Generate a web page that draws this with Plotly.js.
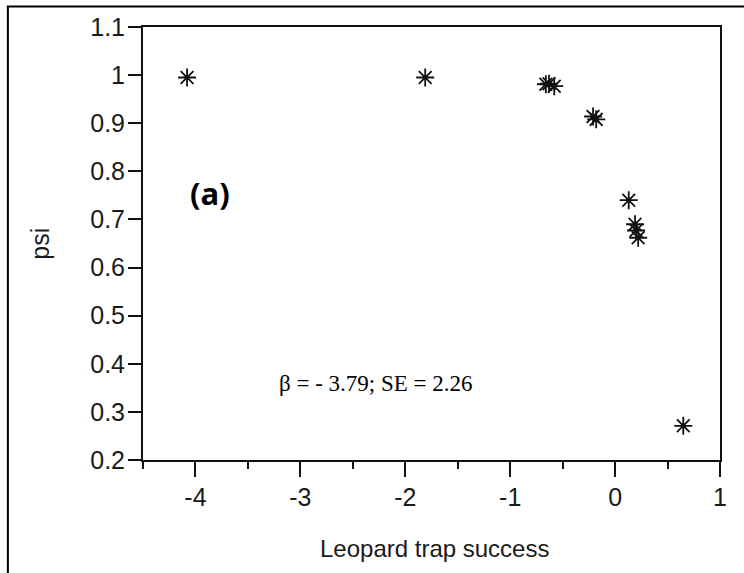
<!DOCTYPE html>
<html>
<head>
<meta charset="utf-8">
<script src="https://cdn.plot.ly/plotly-3.0.1.min.js"></script>
<style>
  html, body { margin: 0; padding: 0; background: #fff; }
  #chart { width: 744px; height: 573px; }
</style>
</head>
<body>
<div id="chart"></div>
<script>
// Leopard trap success (x) against estimated occupancy psi (y), one star per site
const trapSuccess = [-4.08, -1.81, -0.66, -0.63, -0.58, -0.21, -0.18, 0.13, 0.19, 0.20, 0.22, 0.65];
const psi         = [0.995, 0.995, 0.981, 0.982, 0.977, 0.914, 0.908, 0.740, 0.690, 0.677, 0.662, 0.271];

const xTickVals = [-4, -3, -2, -1, 0, 1];
const xTickText = ['-4', '-3', '-2', '-1', '0', '1'];
const yTickVals = [0.2, 0.3, 0.4, 0.5, 0.6, 0.7, 0.8, 0.9, 1.0, 1.1];
const yTickText = ['0.2', '0.3', '0.4', '0.5', '0.6', '0.7', '0.8', '0.9', '1', '1.1'];

const panelLabel = '(a)';
const statsText = '\u03B2 = - 3.79; SE = 2.26';
const xTitle = 'Leopard trap success';
const yTitle = 'psi';

const sans = 'Liberation Sans, Arial, sans-serif';
const ink = '#111';

const trace = {
  type: 'scatter',
  mode: 'markers',
  x: trapSuccess,
  y: psi,
  marker: {
    symbol: 'asterisk-open',
    size: 15,
    color: ink,
    line: { color: ink, width: 1.8 }
  },
  hoverinfo: 'skip'
};

const axisCommon = {
  showgrid: false,
  zeroline: false,
  showline: true,
  mirror: true,
  linecolor: ink,
  linewidth: 2,
  ticks: 'outside',
  tickcolor: ink,
  tickwidth: 2,
  tickfont: { family: sans, size: 25, color: '#1a1a1a' },
  fixedrange: true
};

const layout = {
  width: 744,
  height: 573,
  margin: { l: 143, r: 24, t: 27, b: 113 },
  paper_bgcolor: '#fff',
  plot_bgcolor: '#fff',
  showlegend: false,
  xaxis: Object.assign({}, axisCommon, {
    range: [-4.5, 1],
    tickmode: 'array',
    tickvals: xTickVals,
    ticktext: xTickText,
    ticklen: 15,
    ticklabelstandoff: -1,
    minor: { dtick: 0.5, tick0: 0, ticks: 'outside', ticklen: 7, tickwidth: 2, tickcolor: ink, showgrid: false }
  }),
  yaxis: Object.assign({}, axisCommon, {
    range: [0.2, 1.1],
    tickmode: 'array',
    tickvals: yTickVals,
    ticktext: yTickText,
    ticklen: 13,
    ticklabelstandoff: -2
  }),
  shapes: [
    // outer frame of the figure panel
    {
      type: 'rect', xref: 'paper', yref: 'paper',
      x0: -0.2342, x1: 1.05, y0: -0.30, y1: 1.0473,
      line: { color: '#000', width: 2 }
    }
  ],
  annotations: [
    {
      text: xTitle, xref: 'paper', yref: 'paper', x: 0.505, y: -0.205,
      xanchor: 'center', yanchor: 'middle', showarrow: false,
      font: { family: sans, size: 24, color: '#1a1a1a' }
    },
    {
      text: yTitle, xref: 'paper', yref: 'paper', x: -0.18, y: 0.5,
      xanchor: 'center', yanchor: 'middle', textangle: -90, showarrow: false,
      font: { family: sans, size: 25, color: '#1a1a1a' }
    },
    {
      text: '<b>' + panelLabel + '</b>', xref: 'x', yref: 'y', x: -3.86, y: 0.755,
      xanchor: 'center', yanchor: 'middle', showarrow: false,
      font: { family: 'Open Sans, Noto Sans, sans-serif', size: 31, color: '#000' }
    },
    {
      text: statsText, xref: 'x', yref: 'y', x: -3.22, y: 0.358,
      xanchor: 'left', yanchor: 'middle', showarrow: false,
      font: { family: 'Liberation Serif, Times New Roman, serif', size: 23, color: '#000' }
    }
  ]
};

Plotly.newPlot('chart', [trace], layout, { displayModeBar: false, staticPlot: true });
</script>
</body>
</html>
